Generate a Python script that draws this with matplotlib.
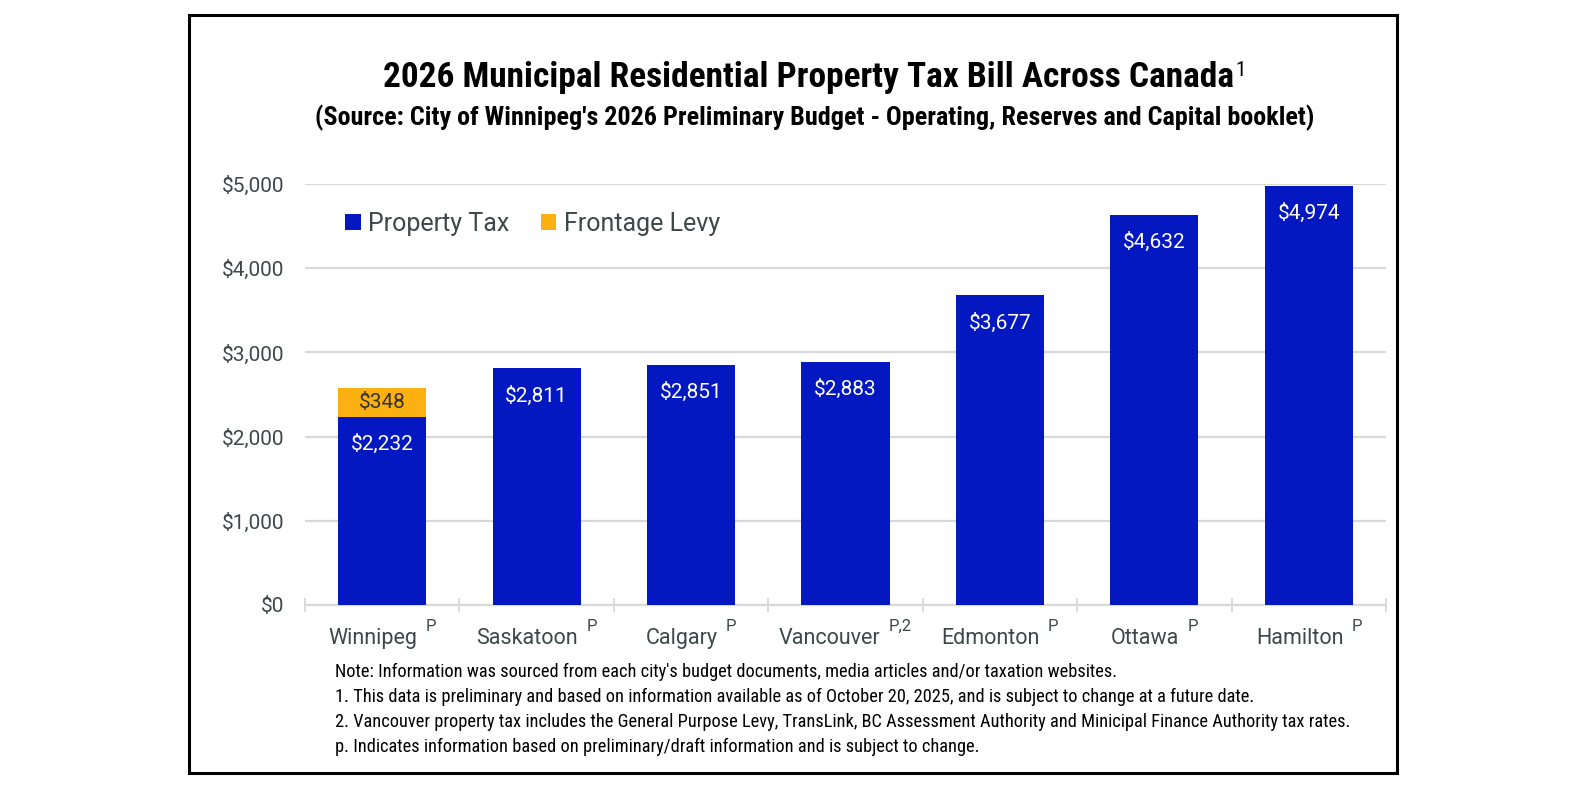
import matplotlib
matplotlib.use("Agg")
import matplotlib.pyplot as plt
from matplotlib import font_manager
from matplotlib.patches import Patch, Rectangle
from matplotlib.transforms import blended_transform_factory

# ---------------- data ----------------
cities = ["Winnipeg", "Saskatoon", "Calgary", "Vancouver", "Edmonton", "Ottawa", "Hamilton"]
city_marks = ["P", "P", "P", "P,2", "P", "P", "P"]
property_tax = [2232, 2811, 2851, 2883, 3677, 4632, 4974]
frontage_levy = [348, 0, 0, 0, 0, 0, 0]
y_ticks = [0, 1000, 2000, 3000, 4000, 5000]
title = "2026 Municipal Residential Property Tax Bill Across Canada"
subtitle = "(Source: City of Winnipeg's 2026 Preliminary Budget - Operating, Reserves and Capital booklet)"
notes = [
    "Note: Information was sourced from each city's budget documents, media articles and/or taxation websites.",
    "1. This data is preliminary and based on information available as of October 20, 2025, and is subject to change at a future date.",
    "2. Vancouver property tax includes the General Purpose Levy, TransLink, BC Assessment Authority and Minicipal Finance Authority tax rates.",
    "p. Indicates information based on preliminary/draft information and is subject to change.",
]


def pick(fams, **kw):
    for f in fams:
        try:
            font_manager.findfont(font_manager.FontProperties(family=f, **kw), fallback_to_default=False)
            return f
        except Exception:
            continue
    return "DejaVu Sans"


COND = pick(["Liberation Sans Narrow", "Roboto Condensed", "DejaVu Sans Condensed", "Liberation Sans"])
BASE = pick(["Roboto", "Noto Sans", "DejaVu Sans"])

BLUE = "#0418C2"
ORANGE = "#FDB012"
GRAY_TXT = "#3E4848"
GRID = "#D9D9D9"

W, H = 1593, 798
fig = plt.figure(figsize=(W / 100, H / 100), dpi=100)
fig.patch.set_facecolor("white")


def fx(px):
    return px / W


def fy(py):
    return 1 - py / H


ax_left, ax_right, ax_top, ax_bottom = 305, 1386, 184, 605
ax = fig.add_axes([fx(ax_left), fy(ax_bottom), fx(ax_right - ax_left), (ax_bottom - ax_top) / H])

x = list(range(len(cities)))
ax.bar(x, property_tax, width=0.57, color=BLUE, zorder=3)
ax.bar(x, frontage_levy, bottom=property_tax, width=0.57, color=ORANGE, zorder=3)

ax.set_xlim(-0.5, len(cities) - 0.5)
ax.set_ylim(0, 5000)
ax.set_yticks(y_ticks)
ax.set_yticklabels([f"${v:,}" for v in y_ticks], fontfamily=BASE, fontsize=15, color=GRAY_TXT)
ax.tick_params(axis="y", length=0, pad=15)
ax.yaxis.grid(True, color=GRID, linewidth=1.6, zorder=0)
ax.set_axisbelow(True)

ax.set_xticks([i - 0.5 for i in range(len(cities) + 1)])
ax.set_xticklabels([])
ax.tick_params(axis="x", direction="inout", length=10, width=1.3, color=GRID)
for s in ["top", "right", "left"]:
    ax.spines[s].set_visible(False)
ax.spines["bottom"].set_color(GRID)
ax.spines["bottom"].set_linewidth(1.6)

# value labels
for i, v in enumerate(property_tax):
    ax.annotate(f"${v:,}", xy=(i, v), xytext=(0, -19.5), textcoords="offset points",
                ha="center", va="center", color="white", fontsize=15, fontfamily=BASE, zorder=5)
for i, (v, f) in enumerate(zip(property_tax, frontage_levy)):
    if f:
        ax.annotate(f"${f:,}", xy=(i, v + f / 2), ha="center", va="center",
                    color="#333333", fontsize=15, fontfamily=BASE, zorder=5)

# category labels with superscript marks
tr = blended_transform_factory(ax.transData, ax.transAxes)
name_txt, mark_txt = [], []
for i, (c, m) in enumerate(zip(cities, city_marks)):
    name_txt.append(ax.text(i, -(644 - ax_bottom) / (ax_bottom - ax_top), c, transform=tr,
                            ha="left", va="baseline", fontsize=15.5, fontfamily=BASE, color=GRAY_TXT))
    mark_txt.append(ax.text(i, -(631 - ax_bottom) / (ax_bottom - ax_top), m, transform=tr,
                            ha="left", va="baseline", fontsize=12, fontfamily=BASE, color=GRAY_TXT))

# legend
handles = [Patch(facecolor=BLUE, edgecolor="none", label="Property Tax"),
           Patch(facecolor=ORANGE, edgecolor="none", label="Frontage Levy")]
fig.legend(handles=handles, loc="center left", bbox_to_anchor=(fx(345), fy(224)), ncol=2,
           frameon=False, borderpad=0, borderaxespad=0, handlelength=0.62, handleheight=0.62,
           handletextpad=0.3, columnspacing=1.25, prop={"family": BASE, "size": 18},
           labelcolor=GRAY_TXT)

# titles
t_title = fig.text(fx(383), fy(87), title, ha="left", va="baseline", fontsize=28,
                   fontweight="bold", fontfamily=COND, color="black")
t_sup = fig.text(0, fy(76), "1", ha="left", va="baseline", fontsize=15,
                 fontfamily=COND, color="black")
t_sub = fig.text(fx(315), fy(125), subtitle, ha="left", va="baseline", fontsize=18,
                 fontweight="bold", fontfamily=COND, color="black")

note_txt = []
for k, line in enumerate(notes):
    note_txt.append(fig.text(fx(335), fy(677 + 25 * k), line, ha="left", va="baseline",
                             fontsize=14, fontfamily=COND, color="black"))

# frame
fig.patches.append(Rectangle((fx(189), fy(773)), fx(1397 - 189), (773 - 15) / H,
                             transform=fig.transFigure, fill=False, edgecolor="black",
                             linewidth=2.2, zorder=10))

# ---- layout fitting of text widths to the reference ----
fig.canvas.draw()
r = fig.canvas.get_renderer()


def width(t):
    return t.get_window_extent(renderer=r).width


tw = width(t_title)
t_title.set_fontsize(28 * (852 / tw))
sw = width(t_sub)
t_sub.set_fontsize(18 * (1000 / sw))
nw = width(note_txt[2])
for t in note_txt:
    t.set_fontsize(14 * (1020 / nw))
fig.canvas.draw()

# title superscript after title
bb = t_title.get_window_extent(renderer=r)
t_sup.set_position((bb.x1 / W + 1 / W, fy(76)))

# center name + mark group on each category
px_per_unit = (ax_right - ax_left) / len(cities)
for i in range(len(cities)):
    w1 = width(name_txt[i])
    w2 = width(mark_txt[i])
    gap = 8
    total = w1 + gap + w2
    left = i - (total / 2) / px_per_unit
    name_txt[i].set_x(left)
    mark_txt[i].set_x(left + (w1 + gap) / px_per_unit)

fig.savefig("out.png", dpi=100, facecolor="white")
